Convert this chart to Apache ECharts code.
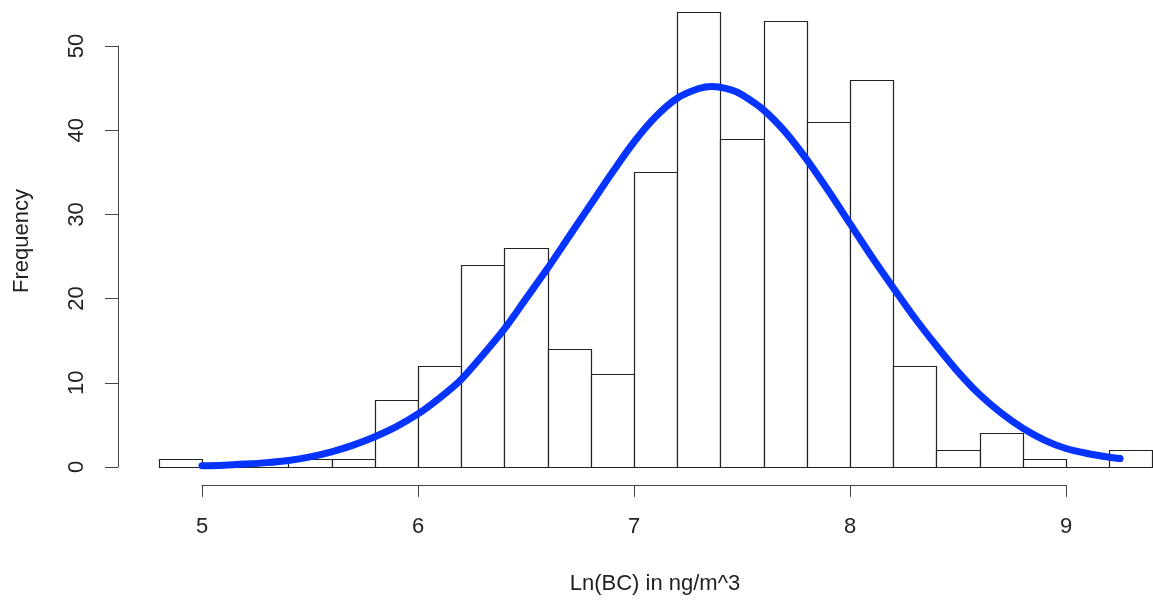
<!DOCTYPE html>
<html>
<head>
<meta charset="utf-8">
<script src="https://cdn.jsdelivr.net/npm/echarts@6/dist/echarts.min.js"></script>
<style>
html,body{margin:0;padding:0;background:#fff;}
#chart{width:1153px;height:604px;}
</style>
</head>
<body>
<div id="chart"></div>
<script>
// Histogram bin edges (Ln(BC) in ng/m^3)
var binEdges = [4.8, 5.0, 5.2, 5.4, 5.6, 5.8, 6.0, 6.2, 6.4, 6.6, 6.8, 7.0, 7.2, 7.4, 7.6, 7.8, 8.0, 8.2, 8.4, 8.6, 8.8, 9.0, 9.2, 9.4];
// Frequencies per bin
var counts = [1, 0, 0, 1, 1, 8, 12, 24, 26, 14, 11, 35, 54, 39, 53, 41, 46, 12, 2, 4, 1, 0, 2];
// Fitted normal curve
var curveX = [5.0, 5.1, 5.2, 5.3, 5.4, 5.5, 5.6, 5.7, 5.8, 5.9, 6.0, 6.1, 6.2, 6.3, 6.4, 6.5, 6.6, 6.7, 6.8, 6.9,
              7.0, 7.1, 7.2, 7.3, 7.36, 7.45, 7.5, 7.6, 7.7, 7.8, 7.9, 8.0, 8.1, 8.2, 8.3, 8.4, 8.5, 8.6, 8.7, 8.8, 8.9,
              9.0, 9.1, 9.2, 9.25];
var curveY = [0.15, 0.22, 0.35, 0.52, 0.78, 1.2, 1.8, 2.6, 3.6, 4.8, 6.3, 8.2, 10.4, 13.3, 16.4, 20.0, 23.6, 27.4, 31.2, 35.0,
              38.6, 41.6, 43.8, 44.95, 45.2, 44.8, 44.2, 42.4, 39.8, 36.5, 32.8, 28.9, 25.0, 21.3, 17.7, 14.4, 11.3, 8.6, 6.4, 4.6, 3.2,
              2.2, 1.6, 1.15, 1.0];
// Axis ticks
var xTicks = [5, 6, 7, 8, 9];
var yTicks = [0, 10, 20, 30, 40, 50];
var xLabel = 'Ln(BC) in ng/m^3';
var yLabel = 'Frequency';

var FONT = 'Liberation Sans, Arial, sans-serif';
var TXT = '#222';

var histData = counts.map(function (c, i) { return [binEdges[i], binEdges[i + 1], c]; });
var curveData = curveX.map(function (x, i) { return [x, curveY[i]]; });

var chart = echarts.init(document.getElementById('chart'), null, {renderer: 'canvas'});
var option = {
  backgroundColor: '#fff',
  animation: false,
  grid: [
    {left: 158.8, right: 0.6, top: 467 - 55 * 8.42, bottom: 137},   // data grid
    {left: 202, width: 864, top: 470, height: 15},                 // x axis
    {left: 118, width: 20, top: 46, bottom: 137}                   // y axis
  ],
  xAxis: [
    {gridIndex: 0, type: 'value', min: 4.8, max: 9.4, show: false},
    {gridIndex: 1, type: 'value', min: xTicks[0], max: xTicks[xTicks.length - 1], interval: 1,
      axisLine: {show: true, lineStyle: {color: '#444', width: 1}},
      axisTick: {show: true, length: 12, lineStyle: {color: '#444', width: 1}},
      axisLabel: {show: true, margin: 31, fontSize: 22, color: TXT, fontFamily: FONT},
      splitLine: {show: false}},
    {gridIndex: 2, type: 'value', show: false}
  ],
  yAxis: [
    {gridIndex: 0, type: 'value', min: 0, max: 55, show: false},
    {gridIndex: 1, type: 'value', show: false},
    {gridIndex: 2, type: 'value', min: yTicks[0], max: yTicks[yTicks.length - 1], interval: 10, position: 'left',
      axisLine: {show: true, lineStyle: {color: '#444', width: 1}},
      axisTick: {show: true, length: 13, lineStyle: {color: '#444', width: 1}},
      axisLabel: {show: true, rotate: 90, margin: 30, fontSize: 22, color: TXT, fontFamily: FONT},
      splitLine: {show: false}}
  ],
  graphic: [
    {type: 'text', position: [655, 584],
      style: {text: xLabel, fontSize: 22, fontFamily: FONT, fill: TXT, textAlign: 'center', textVerticalAlign: 'middle'}},
    {type: 'text', position: [22, 241], rotation: Math.PI / 2,
      style: {text: yLabel, fontSize: 22, fontFamily: FONT, fill: TXT, textAlign: 'center', textVerticalAlign: 'middle'}}
  ],
  series: [
    {
      type: 'custom', xAxisIndex: 0, yAxisIndex: 0, data: histData, z: 2,
      renderItem: function (params, api) {
        var p0 = api.coord([api.value(0), api.value(2)]);
        var p1 = api.coord([api.value(1), 0]);
        return {
          type: 'rect',
          shape: {x: Math.round(p0[0]) + 0.5, y: Math.round(p0[1]) + 0.5, width: Math.round(p1[0]) - Math.round(p0[0]), height: Math.round(p1[1]) - Math.round(p0[1])},
          style: {fill: '#fff', stroke: '#222', lineWidth: 1.2}
        };
      }
    },
    {
      type: 'line', xAxisIndex: 0, yAxisIndex: 0, data: curveData, smooth: 0.3, symbol: 'none', z: 5,
      lineStyle: {color: '#0533ff', width: 7, cap: 'round', join: 'round'}
    }
  ]
};
chart.setOption(option);
</script>
</body>
</html>
